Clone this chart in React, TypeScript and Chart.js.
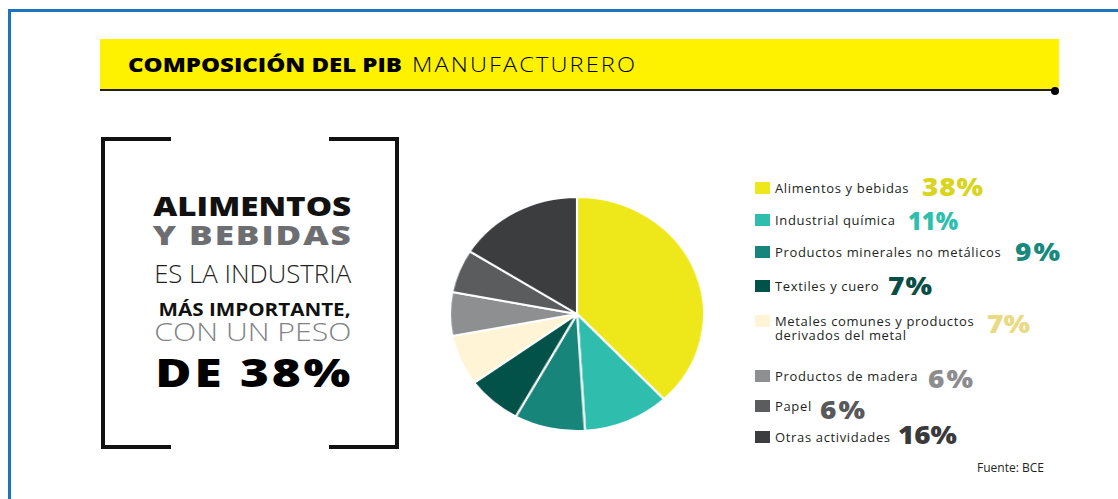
import React, { useEffect, useLayoutEffect, useRef } from "react";
import { Chart, registerables } from "chart.js";

Chart.register(...registerables);

const titleBold = "COMPOSICIÓN DEL PIB";
const titleLight = "MANUFACTURERO";
const categories = [
  "Alimentos y bebidas",
  "Industrial química",
  "Productos minerales no metálicos",
  "Textiles y cuero",
  "Metales comunes y productos\nderivados del metal",
  "Productos de madera",
  "Papel",
  "Otras actividades",
];
const shares = [38, 11, 9, 7, 7, 6, 6, 16];
const sliceColors = ["#eee81a", "#2fbdad", "#17857a", "#03524a", "#fff5d6", "#8e8f91", "#5b5c5e", "#3c3d3f"];
const pctColors = ["#d9d51f", "#2ebfad", "#1a897d", "#0a4d46", "#e9da84", "#8d8d8f", "#58595b", "#3a3a3c"];
const sourceText = "Fuente: BCE";

// layout (not data)
const legendRowCenters = [188, 220, 252, 286, 321, 376, 406, 437];
const pctOffsets = [-1, 1, 0, 0, 3, 3, 4, -2];
const pctLefts = [922, 908, 1015, 888, 987, 928, 820, 898];
const pctWidths = [61, 50, 45, 44, 43, 45, 45, 59];

const FONT = "'Open Sans', sans-serif";

const calloutLines = [
  { text: "ALIMENTOS", size: 27, weight: 800, color: "#111111", top: 192, width: 198 },
  { text: "Y BEBIDAS", size: 27, weight: 800, color: "#6d6e71", top: 221, width: 198 },
  { text: "ES LA INDUSTRIA", size: 25, weight: 300, color: "#231f20", top: 261, width: 197 },
  { text: "MÁS IMPORTANTE,", size: 18, weight: 700, color: "#111111", top: 300, width: 192 },
  { text: "CON UN PESO", size: 26, weight: 300, color: "#808285", top: 318, width: 197 },
  { text: "DE 38%", size: 38, weight: 800, color: "#000000", top: 353, width: 195 },
];

function FitText({
  text,
  width,
  align,
  maxScale = 1.12,
  style,
}: {
  text: string;
  width: number;
  align: "left" | "right";
  maxScale?: number;
  style?: React.CSSProperties;
}) {
  const ref = useRef<HTMLSpanElement | null>(null);
  useLayoutEffect(() => {
    const el = ref.current;
    if (!el) return;
    el.style.letterSpacing = "0px";
    el.style.transform = "none";
    el.style.marginRight = "0px";
    const w = el.getBoundingClientRect().width;
    if (!w) return;
    const n = Math.max(text.length - 1, 1);
    let s = Math.min(Math.max(width / w, 0.85), maxScale);
    let ls = (width / s - w) / n;
    if (ls < -1) {
      ls = -1;
      s = width / (w + ls * n);
    }
    el.style.letterSpacing = `${ls}px`;
    if (align === "right") el.style.marginRight = `${-ls}px`;
    el.style.transform = `scaleX(${s})`;
  }, [text, width, align, maxScale]);
  return (
    <span
      ref={ref}
      style={{
        display: "inline-block",
        whiteSpace: "nowrap",
        transformOrigin: align === "right" ? "right center" : "left center",
        ...style,
      }}
    >
      {text}
    </span>
  );
}

function PieChart() {
  const ref = useRef<HTMLCanvasElement | null>(null);
  useEffect(() => {
    if (!ref.current) return;
    const chart = new Chart(ref.current, {
      type: "pie",
      data: {
        labels: categories,
        datasets: [
          {
            data: shares,
            backgroundColor: sliceColors,
            borderColor: "#ffffff",
            borderWidth: 2,
          },
        ],
      },
      options: {
        animation: false,
        responsive: false,
        maintainAspectRatio: false,
        layout: { padding: 0 },
        plugins: { legend: { display: false }, tooltip: { enabled: false } },
      },
    });
    return () => chart.destroy();
  }, []);
  return (
    <canvas
      ref={ref}
      width={236}
      height={236}
      style={{
        position: "absolute",
        left: 459,
        top: 196,
        width: 236,
        height: 236,
        transform: "scaleX(1.086)",
        transformOrigin: "center center",
      }}
    />
  );
}

export default function App() {
  return (
    <div
      style={{
        position: "absolute",
        left: 0,
        top: 0,
        width: 1118,
        height: 499,
        background: "#ffffff",
        overflow: "hidden",
        fontFamily: FONT,
      }}
    >
      {/* blue frame */}
      <div style={{ position: "absolute", left: 8, top: 9, width: 1120, height: 3, background: "#1e73be" }} />
      <div style={{ position: "absolute", left: 8, top: 9, width: 3, height: 500, background: "#1e73be" }} />

      {/* title bar */}
      <div style={{ position: "absolute", left: 100, top: 39, width: 959, height: 51, background: "#fff200" }} />
      <div style={{ position: "absolute", left: 100, top: 89, width: 956, height: 2, background: "#231f20" }} />
      <div style={{ position: "absolute", left: 1051, top: 87, width: 8, height: 8, borderRadius: 4, background: "#000" }} />
      <div style={{ position: "absolute", left: 128, top: 51, fontSize: 20, lineHeight: "28px", color: "#000" }}>
        <FitText text={titleBold} width={274} align="left" maxScale={1.22} style={{ fontWeight: 800 }} />
      </div>
      <div style={{ position: "absolute", left: 412, top: 51, fontSize: 20, lineHeight: "28px", color: "#000" }}>
        <FitText text={titleLight} width={223} align="left" maxScale={1.18} style={{ fontWeight: 300 }} />
      </div>

      {/* brackets */}
      <div style={{ position: "absolute", left: 101, top: 137, width: 4, height: 312, background: "#111" }} />
      <div style={{ position: "absolute", left: 101, top: 137, width: 70, height: 4, background: "#111" }} />
      <div style={{ position: "absolute", left: 101, top: 445, width: 70, height: 4, background: "#111" }} />
      <div style={{ position: "absolute", left: 395, top: 137, width: 4, height: 312, background: "#111" }} />
      <div style={{ position: "absolute", left: 329, top: 137, width: 70, height: 4, background: "#111" }} />
      <div style={{ position: "absolute", left: 329, top: 445, width: 70, height: 4, background: "#111" }} />

      {calloutLines.map((l, i) => (
        <div
          key={i}
          style={{
            position: "absolute",
            right: 1118 - 351,
            top: l.top,
            fontSize: l.size,
            fontWeight: l.weight,
            color: l.color,
            lineHeight: `${l.size}px`,
            whiteSpace: "nowrap",
            textAlign: "right",
          }}
        >
          <FitText text={l.text} width={l.width} align="right" maxScale={1.3} />
        </div>
      ))}

      <PieChart />

      {/* legend */}
      {categories.map((c, i) => {
        const lines = c.split("\n");
        const cy = legendRowCenters[i];
        return (
          <React.Fragment key={i}>
            <div
              style={{
                position: "absolute",
                left: 755,
                top: cy - 6,
                width: 15,
                height: 12,
                background: sliceColors[i],
              }}
            />
            <div
              style={{
                position: "absolute",
                left: 775,
                top: cy - 7,
                fontSize: 13,
                lineHeight: "14px",
                letterSpacing: 0.65,
                color: "#231f20",
                whiteSpace: "nowrap",
              }}
            >
              {lines.map((t, k) => (
                <div key={k}>{t}</div>
              ))}
            </div>
            <div
              style={{
                position: "absolute",
                left: pctLefts[i],
                top: cy - 16 + pctOffsets[i],
                fontSize: 25,
                fontWeight: 800,
                lineHeight: "30px",
                color: pctColors[i],
              }}
            >
              <FitText text={`${shares[i]}%`} width={pctWidths[i]} align="left" maxScale={1.12} />
            </div>
          </React.Fragment>
        );
      })}

      <div
        style={{
          position: "absolute",
          left: 977,
          top: 460,
          fontSize: 12,
          lineHeight: "16px",
          color: "#231f20",
          whiteSpace: "nowrap",
        }}
      >
        {sourceText}
      </div>
    </div>
  );
}
